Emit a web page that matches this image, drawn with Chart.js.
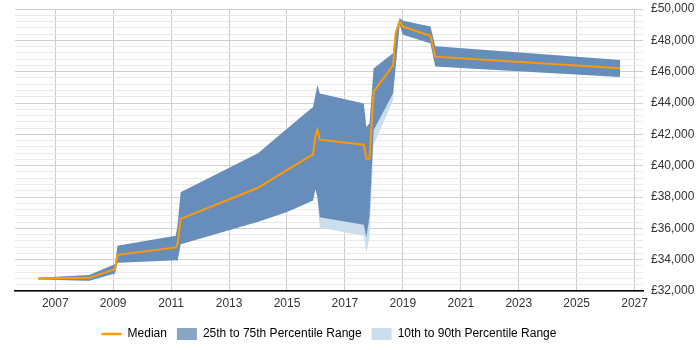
<!DOCTYPE html>
<html>
<head>
<meta charset="utf-8">
<script src="https://cdn.jsdelivr.net/npm/chart.js@4.4.1/dist/chart.umd.min.js"></script>
<style>
  html, body { margin: 0; padding: 0; background: #fff; }
  #wrap { width: 700px; height: 350px; }
</style>
</head>
<body>
<div id="wrap"><canvas id="chart"></canvas></div>
<script>
// Werte (x = Jahr als Dezimalzahl)
const years  = [2006.41, 2008.17, 2009.06, 2009.15, 2011.16, 2011.22, 2011.33, 2014.00, 2014.98, 2015.90, 2015.98, 2016.05, 2016.13, 2017.65, 2017.74, 2017.85, 2017.99, 2018.66, 2018.75, 2018.89, 2019.00, 2019.95, 2020.12, 2026.50];
const median = [32790, 32840, 33390, 34310, 34780, 34990, 36600, 38590, 39700, 40720, 41900, 42300, 41660, 41340, 40440, 40440, 44720, 46400, 48450, 49200, 48880, 48290, 46960, 46220];
const p25    = [32730, 32650, 33110, 33800, 33970, 33920, 34990, 36420, 37020, 37770, 38500, 38000, 36700, 36230, 35420, 36800, 42260, 44610, 46300, 48990, 48350, 47820, 46330, 45660];
const p75    = [32840, 33020, 33710, 34890, 35530, 36170, 38300, 40800, 42320, 43750, 44500, 45150, 44610, 43970, 42470, 42700, 46200, 47180, 48600, 49420, 49250, 48880, 47620, 46750];
const p10    = [32730, 32650, 33110, 33800, 33970, 33920, 34990, 36420, 37020, 37770, 38500, 38000, 36060, 35520, 34460, 35400, 41300, 44180, 46300, 48990, 48350, 47820, 46330, 45660];
const p90    = [32840, 33020, 33710, 34890, 35530, 36170, 38300, 40800, 42320, 43750, 44500, 45150, 44610, 43970, 42470, 42700, 46200, 47180, 48600, 49420, 49250, 48880, 47620, 46750];

const xTicks = [2007, 2009, 2011, 2013, 2015, 2017, 2019, 2021, 2023, 2025, 2027];
const yMajor = [32000, 34000, 36000, 38000, 40000, 42000, 44000, 46000, 48000, 50000];

const ORANGE = 'rgb(255,153,0)';
const BAND = 'rgba(70,115,170,0.75)';
const BAND_LEGEND = 'rgb(137,165,198)';
const WIDE = 'rgb(204,221,238)';

// Nebenlinien: vier zwischen je zwei Hauptlinien
const yGrid = [];
yMajor.forEach((v, i) => {
  yGrid.push(v);
  if (i < yMajor.length - 1) {
    const step = (yMajor[i + 1] - v) / 5;
    for (let k = 1; k < 5; k++) yGrid.push(v + k * step);
  }
});

const pts = (arr) => years.map((x, i) => ({ x, y: arr[i] }));

const legendItems = [
  { text: 'Median', style: 'line', color: ORANGE, ds: 0 },
  { text: '25th to 75th Percentile Range', style: 'rect', color: BAND_LEGEND, ds: 1 },
  { text: '10th to 90th Percentile Range', style: 'rect', color: WIDE, ds: 3 }
];

Chart.defaults.font.family = 'Arial, "Liberation Sans", sans-serif';
Chart.defaults.font.size = 12;
Chart.defaults.color = '#333';

new Chart(document.getElementById('chart'), {
  type: 'line',
  data: {
    datasets: [
      { label: 'Median', data: pts(median), borderColor: ORANGE, borderWidth: 2, fill: false, order: 0 },
      { label: '25th to 75th Percentile Range', data: pts(p75), borderWidth: 0, borderColor: 'transparent', backgroundColor: BAND, fill: 2, order: 1 },
      { label: 'p25', data: pts(p25), borderWidth: 0, borderColor: 'transparent', fill: false, order: 1 },
      { label: '10th to 90th Percentile Range', data: pts(p90), borderWidth: 0, borderColor: 'transparent', backgroundColor: WIDE, fill: 4, order: 2 },
      { label: 'p10', data: pts(p10), borderWidth: 0, borderColor: 'transparent', fill: false, order: 2 }
    ]
  },
  options: {
    responsive: true, maintainAspectRatio: false,
    animation: false,
    layout: { padding: { left: 15, right: 0, top: 9, bottom: 0 } },
    elements: { point: { radius: 0, hoverRadius: 0 }, line: { tension: 0 } },
    plugins: {
      tooltip: { enabled: false },
      legend: {
        position: 'bottom', fullSize: false,
        labels: {
          usePointStyle: true, pointStyleWidth: 20, boxHeight: 12, padding: 10, color: '#222',
          generateLabels: () => legendItems.map((it) => ({
            text: it.text, pointStyle: it.style, fillStyle: it.color, strokeStyle: it.color,
            lineWidth: it.style === 'line' ? 2.5 : 0, hidden: false, datasetIndex: it.ds
          }))
        }
      }
    },
    scales: {
      x: {
        type: 'linear', min: 2005.61, max: 2027.29,
        afterBuildTicks: (s) => { s.ticks = xTicks.map((v) => ({ value: v })); },
        afterFit: (s) => { s.height = 27; s.paddingLeft = 0; s.paddingRight = 0; },
        ticks: { autoSkip: false, maxRotation: 0, padding: 5, color: '#333', callback: (v) => String(v) },
        grid: { color: 'rgb(204,204,204)', drawTicks: false },
        border: { color: '#000', width: 1.5 }
      },
      y: {
        position: 'right', min: 32000, max: 50000,
        afterBuildTicks: (s) => { s.ticks = yGrid.map((v) => ({ value: v })); },
        afterFit: (s) => { s.width = 57; s.paddingTop = 0; s.paddingBottom = 0; },
        ticks: {
          autoSkip: false, padding: 8, color: '#333',
          callback: (v) => yMajor.includes(v) ? '£' + v.toLocaleString('en-GB') : ''
        },
        grid: {
          drawTicks: false,
          color: (ctx) => yMajor.includes(ctx.tick.value) ? 'rgb(208,208,208)' : 'rgb(234,234,234)'
        },
        border: { display: false }
      }
    }
  }
});
</script>
</body>
</html>
